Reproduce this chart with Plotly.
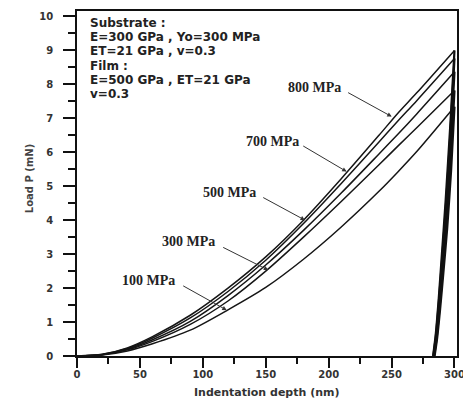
import plotly.graph_objects as go

# ---- data ----
depth = [0, 20, 40, 60, 90, 120, 150, 180, 210, 240, 255, 270, 300]
load_800 = [0, 0.05, 0.24, 0.57, 1.20, 2.00, 2.92, 4.00, 5.22, 6.50, 7.15, 7.75, 9.00]
load_700 = [0, 0.045, 0.22, 0.53, 1.12, 1.90, 2.82, 3.90, 5.08, 6.30, 6.92, 7.52, 8.76]
load_500 = [0, 0.04, 0.20, 0.48, 1.02, 1.78, 2.68, 3.70, 4.80, 5.95, 6.53, 7.13, 8.37]
load_300 = [0, 0.035, 0.18, 0.43, 0.93, 1.62, 2.50, 3.50, 4.55, 5.63, 6.18, 6.72, 7.82]
load_100 = [0, 0.03, 0.15, 0.36, 0.76, 1.36, 2.02, 2.85, 3.80, 4.85, 5.42, 6.02, 7.34]

unl_800_h = [300, 296.5, 293.0, 290.0, 287.5, 285.0, 283.0]
unl_800_p = [9.00, 6.70, 4.60, 3.00, 1.70, 0.60, 0]
unl_700_h = [300, 296.7, 293.3, 290.3, 287.7, 285.2, 283.2]
unl_700_p = [8.76, 6.52, 4.48, 2.92, 1.65, 0.58, 0]
unl_500_h = [300, 296.9, 293.6, 290.6, 288.0, 285.5, 283.5]
unl_500_p = [8.37, 6.22, 4.28, 2.80, 1.58, 0.55, 0]
unl_300_h = [300, 297.1, 293.9, 290.9, 288.3, 285.8, 283.8]
unl_300_p = [7.82, 5.82, 4.00, 2.62, 1.48, 0.52, 0]
unl_100_h = [300, 297.3, 294.2, 291.2, 288.6, 286.1, 284.2]
unl_100_p = [7.34, 5.46, 3.76, 2.46, 1.39, 0.49, 0]

curve_labels = ["800 MPa", "700 MPa", "500 MPa", "300 MPa", "100 MPa"]
info_lines = ["Substrate :", "E=300 GPa , Yo=300 MPa", "ET=21 GPa , v=0.3",
              "Film :", "E=500 GPa , ET=21 GPa", "v=0.3"]
x_ticks = [0, 50, 100, 150, 200, 250, 300]
y_ticks = list(range(0, 11))

loads = [load_800, load_700, load_500, load_300, load_100]
unloads = [(unl_800_h, unl_800_p), (unl_700_h, unl_700_p), (unl_500_h, unl_500_p),
           (unl_300_h, unl_300_p), (unl_100_h, unl_100_p)]

fig = go.Figure()
for lab, ld in zip(curve_labels, loads):
    fig.add_trace(go.Scatter(x=depth, y=ld, mode="lines", name=lab,
                             line=dict(color="#151515", width=1.5, shape="spline", smoothing=0.8),
                             showlegend=False, hoverinfo="skip"))
for lab, (uh, up) in zip(curve_labels, unloads):
    fig.add_trace(go.Scatter(x=uh, y=up, mode="lines", name=lab + " unload",
                             line=dict(color="#111", width=2.2, shape="spline", smoothing=0.6),
                             showlegend=False, hoverinfo="skip"))

# label / arrow placement (text centre, arrow tail, arrow tip) in data units
label_pos = [
    ((188.4, 7.92), (214.3, 7.78), (250.1, 7.05)),
    ((155.0, 6.32), (178.6, 6.21), (214.3, 5.43)),
    ((120.8, 4.81), (146.8, 4.69), (181.2, 4.00)),
    ((89.0, 3.37), (115.0, 3.22), (152.0, 2.53)),
    ((57.2, 2.21), (83.2, 2.09), (119.0, 1.35)),
]
anns = []
for lab, (txt, tail, tip) in zip(curve_labels, label_pos):
    anns.append(dict(x=txt[0], y=txt[1], xref="x", yref="y", text="<b>" + lab + "</b>",
                     showarrow=False, font=dict(family="Liberation Serif", size=14, color="#222")))
    anns.append(dict(x=tip[0], y=tip[1], ax=tail[0], ay=tail[1], xref="x", yref="y",
                     axref="x", ayref="y", text="", showarrow=True, arrowhead=2,
                     arrowsize=0.9, arrowwidth=1, arrowcolor="#333"))

# info block: one annotation per line, 14.2 px apart
plot_h = 345.0
for i, s in enumerate(info_lines):
    anns.append(dict(x=0.029, y=(356 - 23 - 14.2 * i) / plot_h, xref="paper", yref="paper",
                     xanchor="left", yanchor="middle", align="left", showarrow=False,
                     text=s, font=dict(family="DejaVu Sans", size=12, color="#222", weight="bold")))

anns.append(dict(x=0.5, y=-0.107, xref="paper", yref="paper", showarrow=False,
                 xanchor="center", yanchor="middle",
                 text="Indentation depth (nm)",
                 font=dict(family="DejaVu Sans", size=11, color="#333", weight="bold")))
anns.append(dict(x=-0.126, y=0.513, xref="paper", yref="paper", showarrow=False, textangle=-90,
                 xanchor="center", yanchor="middle",
                 text="Load P (mN)",
                 font=dict(family="DejaVu Sans", size=10, color="#444", weight="bold")))

axis_common = dict(showgrid=False, zeroline=False, showline=True, linecolor="#111", linewidth=1.5,
                   mirror=True, ticks="outside", tickcolor="#111", tickwidth=1.5, automargin=False,
                   ticklabeloverflow="allow",
                   tickfont=dict(family="DejaVu Sans", size=10, color="#333", weight="bold"))

fig.update_layout(
    width=463, height=400,
    margin=dict(l=77, r=6, t=11, b=44, autoexpand=False),
    paper_bgcolor="white", plot_bgcolor="white",
    xaxis=dict(range=[0, 302], tickvals=x_ticks, ticklen=10, ticklabelstandoff=-2,
               minor=dict(dtick=25, tick0=0, ticks="outside", ticklen=6, tickcolor="#111", tickwidth=1.5),
               **axis_common),
    yaxis=dict(range=[0, 10.16], tickvals=y_ticks, ticklen=12, ticklabelstandoff=8,
               minor=dict(dtick=0.5, tick0=0, ticks="outside", ticklen=7, tickcolor="#111", tickwidth=1.5),
               **axis_common),
    annotations=anns,
)

fig.write_html("out.html", config={"displayModeBar": False},
               post_script="document.body.style.margin='0';document.body.style.padding='0';"
                           "document.body.style.overflow='hidden';")
